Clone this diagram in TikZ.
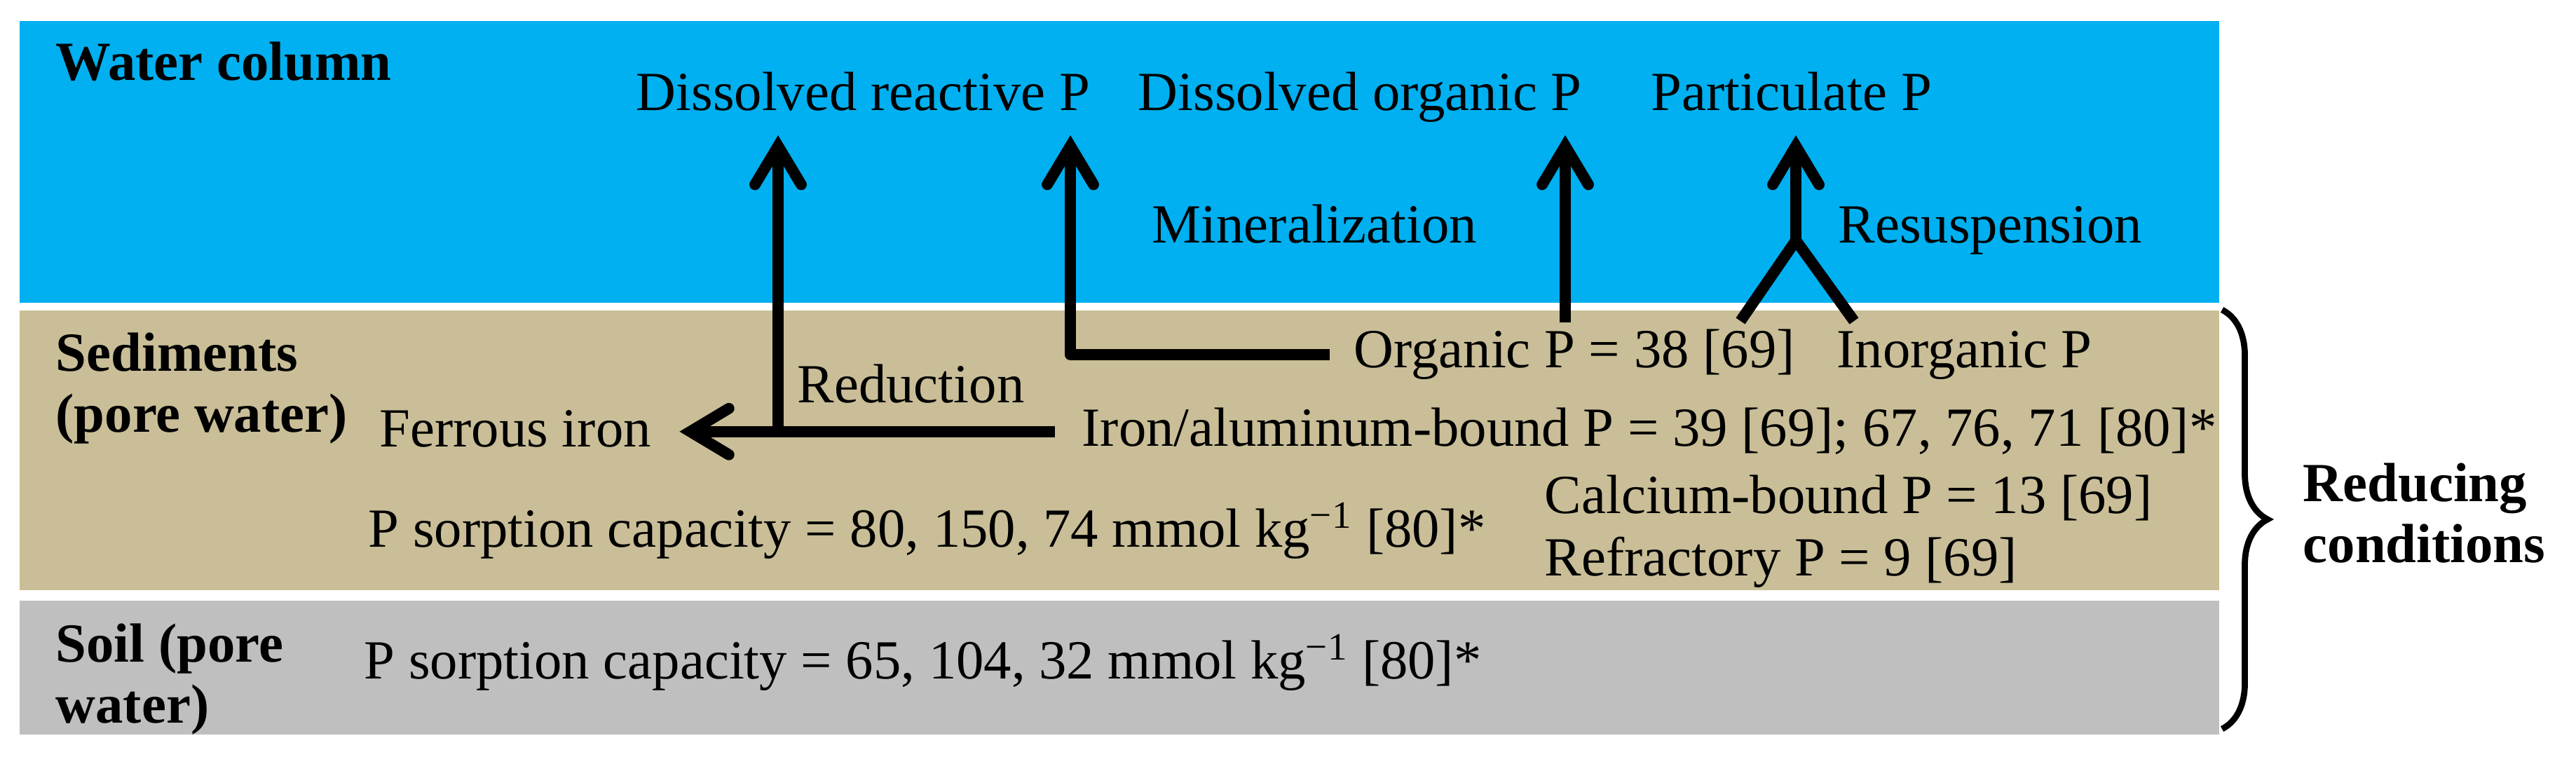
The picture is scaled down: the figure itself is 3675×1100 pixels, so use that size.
\documentclass[tikz,border=0pt]{standalone}
\usepackage{fontspec}
\setmainfont{Liberation Serif}
\newfontfamily\pserif{Liberation Serif}
\definecolor{wcBlue}{HTML}{00B0F0}
\definecolor{sedTan}{HTML}{C9BE97}
\definecolor{soilGray}{HTML}{BFBFBF}
\usetikzlibrary{arrows.meta,decorations.pathreplacing}

\begin{document}
\begin{tikzpicture}[x=0.1mm, y=-0.1mm,
  lbl/.style={anchor=base west, inner sep=0pt, font=\pserif\fontsize{22.4}{24.7}\selectfont},
  zone/.style={anchor=north west, inner sep=0pt, align=left,
    font=\pserif\fontsize{22.4}{24.7}\selectfont\bfseries},
  flow/.style={line width=4.5pt, line join=round,
    -{Straight Barb[length=5.5mm, width=6.6mm, line cap=round, line join=miter]}},
  leg/.style={line width=4.5pt}
]
  \useasboundingbox (0,0) rectangle (3675,1100);

  % Layers
  \fill[wcBlue] (28,30) rectangle (3166,432);
  \fill[sedTan] (28,443) rectangle (3166,842);
  \fill[soilGray] (28,857) rectangle (3166,1048);

  \node[lbl, font=\pserif\fontsize{22.4}{24.7}\selectfont\bfseries] (water) at (79,115) {Water column};
  \node[zone] (sed) at (79,474) {Sediments\\(pore water)};
  \node[zone] (soil) at (79,889) {Soil (pore\\water)};

  % Water column pools
  \node[lbl] (drp) at (907,158) {Dissolved reactive P};
  \node[lbl] (dop) at (1623,158) {Dissolved organic P};
  \node[lbl] (pp) at (2355,158) {Particulate P};
  \node[lbl] (minl) at (1643,347) {Mineralization};
  \node[lbl] (resus) at (2622,347) {Resuspension};

  % Sediment pools
  \node[lbl] (orgp) at (1931,525) {Organic P = 38 [69]};
  \node[lbl] (inorgp) at (2620,525) {Inorganic P};
  \node[lbl] (redl) at (1137,575) {Reduction};
  \node[lbl] (ferrous) at (541,638) {Ferrous iron};
  \node[lbl] (ironal) at (1543,637) {Iron/aluminum-bound P = 39 [69]; 67, 76, 71 [80]*};
  \node[lbl] (capb) at (2203,733) {Calcium-bound P = 13 [69]};
  \node[lbl] (sorpsed) at (525,780) {P sorption capacity = 80, 150, 74 mmol kg\textsuperscript{−1} [80]*};
  \node[lbl] (refr) at (2203,822) {Refractory P = 9 [69]};

  % Soil
  \node[lbl] (sorpsoil) at (519,968) {P sorption capacity = 65, 104, 32 mmol kg\textsuperscript{−1} [80]*};

  % Arrow ends
  \coordinate (redfoot) at (1110,620);
  \coordinate (redtip) at (1110,193);
  \coordinate (mintip) at (1527,193);
  \coordinate (orgfoot) at (2233,460);
  \coordinate (orgtip) at (2233,193);
  \coordinate (yleft) at (2483,458);
  \coordinate (yright) at (2645,458);
  \coordinate (yjoin) at (2562,343);
  \coordinate (ytip) at (2562,193);

  \draw[flow, shorten <=3.8mm, shorten >=4mm] (ironal.west) -- (ironal.west -| ferrous.east);
  \draw[flow] (redfoot) -- (redtip);
  \draw[flow, shorten <=3.4mm] (orgp.west) -| (mintip);
  \draw[flow] (orgfoot) -- (orgtip);
  \draw[leg] (yleft) -- (yjoin) -- (yright);
  \draw[flow] (yjoin) -- (ytip);

  % Brace
  \draw[line width=2.5pt, decorate, decoration={brace, amplitude=6.5mm}] (3170,442) -- (3170,1040);
  \node[zone] (redcond) at (3285,660) {Reducing\\conditions};
\end{tikzpicture}
\end{document}
